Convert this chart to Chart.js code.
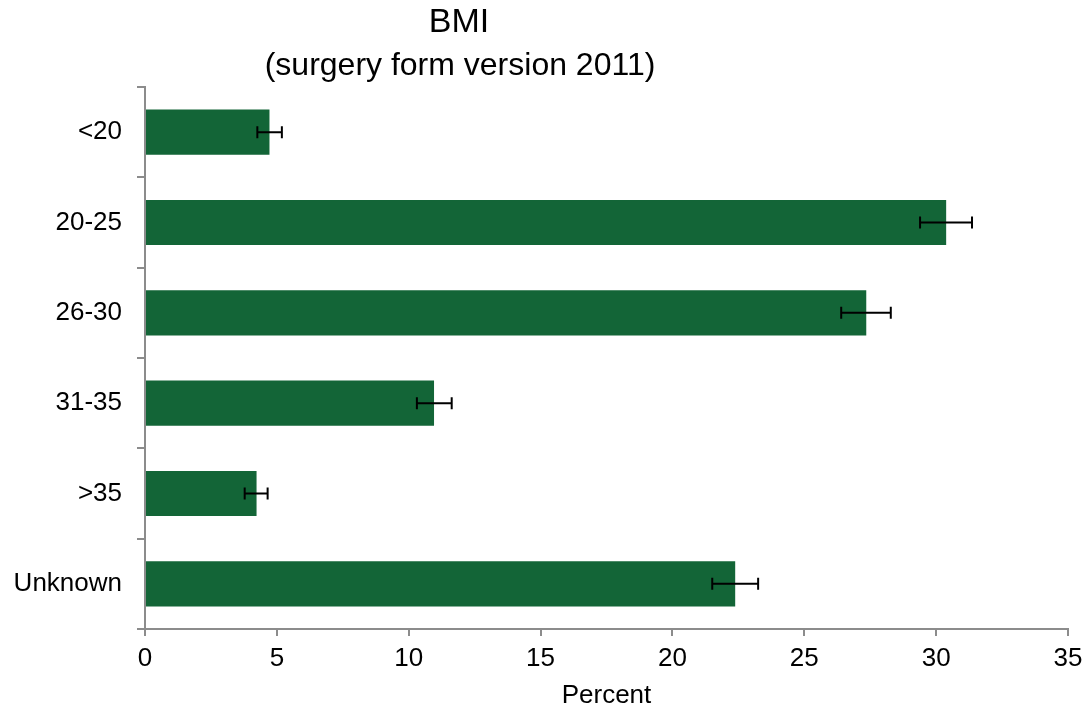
<!DOCTYPE html>
<html>
<head>
<meta charset="utf-8">
<script src="https://cdn.jsdelivr.net/npm/chart.js@4"></script>
<style>
html,body{margin:0;padding:0;background:#fff;}
#wrap{width:1090px;height:711px;position:relative;}
</style>
</head>
<body>
<div id="wrap"><canvas id="c" width="1090" height="711"></canvas></div>
<script>
const categories = ['<20', '20-25', '26-30', '31-35', '>35', 'Unknown'];
const values = [4.72, 30.38, 27.35, 10.96, 4.23, 22.38];
const errLow = [4.26, 29.39, 26.40, 10.31, 3.78, 21.51];
const errHigh = [5.19, 31.36, 28.28, 11.63, 4.65, 23.25];
const titleLines = ['BMI', '(surgery form version 2011)'];
const xTitle = 'Percent';
const xMin = 0, xMax = 35, xStep = 5;

const FONT = "'Liberation Sans', Arial, sans-serif";
const AXIS_COLOR = '#8c8c8c';

const errorBarPlugin = {
  id: 'errorBars',
  afterDatasetsDraw(chart) {
    const ctx = chart.ctx;
    const xs = chart.scales.x, ys = chart.scales.y;
    ctx.save();
    ctx.strokeStyle = '#000';
    ctx.lineWidth = 2;
    categories.forEach((c, i) => {
      const y = ys.getPixelForValue(i);
      const x1 = xs.getPixelForValue(errLow[i]);
      const x2 = xs.getPixelForValue(errHigh[i]);
      ctx.beginPath();
      ctx.moveTo(x1, y); ctx.lineTo(x2, y);
      ctx.moveTo(x1, y - 6); ctx.lineTo(x1, y + 6);
      ctx.moveTo(x2, y - 6); ctx.lineTo(x2, y + 6);
      ctx.stroke();
    });
    ctx.restore();
  }
};

const titlePlugin = {
  id: 'customTitle',
  afterDraw(chart) {
    const ctx = chart.ctx;
    ctx.save();
    ctx.fillStyle = '#000';
    ctx.textAlign = 'center';
    ctx.textBaseline = 'middle';
    ctx.font = '34px ' + FONT;
    ctx.fillText(titleLines[0], 459, 23);
    ctx.font = '32px ' + FONT;
    ctx.fillText(titleLines[1], 460, 66);
    ctx.restore();
  }
};

new Chart(document.getElementById('c'), {
  type: 'bar',
  data: {
    labels: categories,
    datasets: [{
      data: values,
      backgroundColor: '#136537',
      borderWidth: 0,
      barPercentage: 0.5,
      categoryPercentage: 1.0
    }]
  },
  options: {
    indexAxis: 'y',
    responsive: false,
    animation: false,
    devicePixelRatio: 1,
    layout: { padding: { top: 87, right: 22, left: 0, bottom: 0 } },
    plugins: { legend: { display: false }, tooltip: { enabled: false }, title: { display: false } },
    scales: {
      x: {
        min: xMin, max: xMax,
        afterFit(scale) { scale.height = 82; },
        ticks: { stepSize: xStep, color: '#000', font: { family: FONT, size: 26 }, padding: 7 },
        grid: { drawOnChartArea: false, drawTicks: true, tickLength: 7, color: AXIS_COLOR, lineWidth: 2 },
        border: { color: AXIS_COLOR, width: 2 },
        title: { display: true, text: xTitle, color: '#000', font: { family: FONT, size: 26 }, padding: { top: 0, bottom: 0 } }
      },
      y: {
        afterFit(scale) { scale.width = 145; },
        ticks: { color: '#000', font: { family: FONT, size: 26 }, padding: 15 },
        grid: { drawOnChartArea: false, drawTicks: true, tickLength: 8, color: AXIS_COLOR, lineWidth: 2, offset: true },
        border: { color: AXIS_COLOR, width: 2 }
      }
    }
  },
  plugins: [errorBarPlugin, titlePlugin]
});
</script>
</body>
</html>
